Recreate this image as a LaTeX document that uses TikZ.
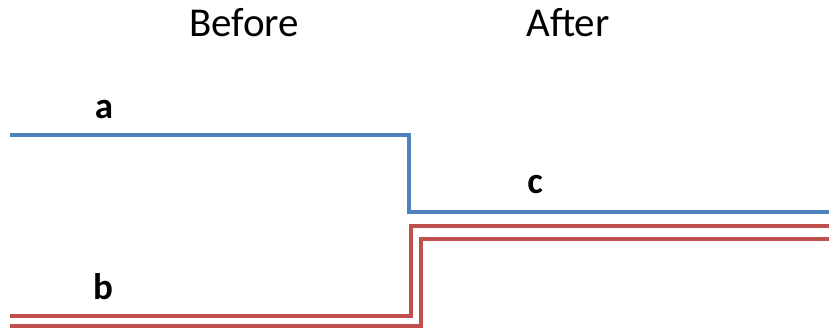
\documentclass[tikz,border=0pt]{standalone}
\usepackage{fontspec}
\setmainfont{Carlito}
\begin{document}
\begin{tikzpicture}[x=1pt,y=-1pt,
  wire/.style={line width=3.2pt,line join=miter},
  bluewire/.style={wire,draw={rgb,255:red,79;green,129;blue,189}},
  redwire/.style={wire,draw={rgb,255:red,192;green,80;blue,77}},
  title/.style={anchor=base,inner sep=0pt,font=\fontsize{41}{42}\selectfont},
  lbl/.style={anchor=base,inner sep=0pt,font=\fontsize{37}{38}\selectfont\bfseries}]
\useasboundingbox (0,0) rectangle (829,328);
\node[title] (before) at (244,37) {Before};
\node[title] (after) at (568,37) {After};
\node[lbl] (la) at (104,119) {a};
\node[lbl] (lb) at (103,299) {b};
\node[lbl] (lc) at (535,194) {c};
% blue
\coordinate (a0) at (10,135);
\coordinate (a1) at (409,135);
\coordinate (a2) at (409,212);
\coordinate (a3) at (829,212);
\draw[bluewire] (a0) -- (a1) -- (a2) -- (a3);
% red 1
\coordinate (b0) at (10,316);
\coordinate (b1) at (411,316);
\coordinate (b2) at (411,226);
\coordinate (b3) at (829,226);
\draw[redwire] (b0) -- (b1) -- (b2) -- (b3);
% red 2
\coordinate (c0) at (10,326);
\coordinate (c1) at (421,326);
\coordinate (c2) at (421,239);
\coordinate (c3) at (829,239);
\draw[redwire] (c0) -- (c1) -- (c2) -- (c3);
\end{tikzpicture}
\end{document}
